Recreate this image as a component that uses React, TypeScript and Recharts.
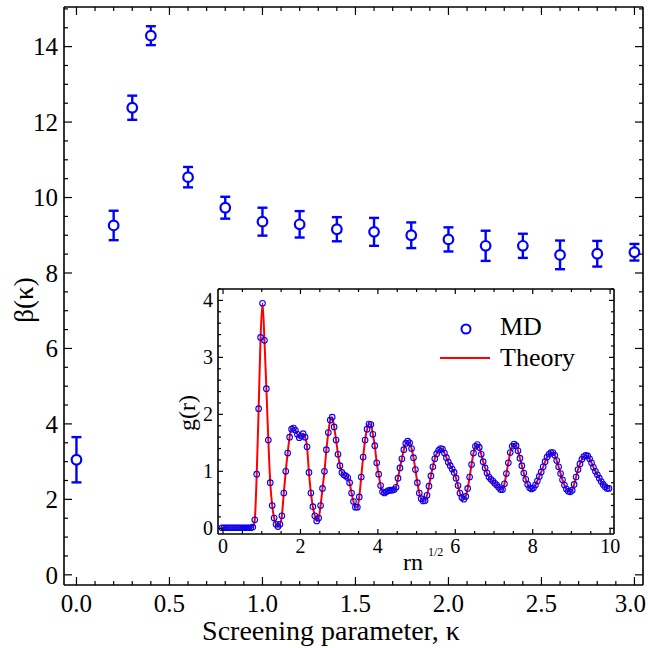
import { ComposedChart, Scatter, Line, XAxis, YAxis, ErrorBar } from 'recharts'

const FONT = '"Liberation Serif", "DejaVu Serif", serif'
const BLUE = '#0000ff'
const RED = '#ff0000'

// main panel: beta(kappa) with error bars
const kappa = [0, 0.2, 0.3, 0.4, 0.6, 0.8, 1.0, 1.2, 1.4, 1.6, 1.8, 2.0, 2.2, 2.4, 2.6, 2.8, 3.0]
const beta = [3.05, 9.26, 12.38, 14.29, 10.54, 9.73, 9.36, 9.29, 9.16, 9.09, 9.0, 8.89, 8.72, 8.72, 8.48, 8.51, 8.55]
const betaErr = [0.6, 0.39, 0.32, 0.25, 0.27, 0.29, 0.37, 0.35, 0.32, 0.37, 0.34, 0.32, 0.4, 0.32, 0.38, 0.34, 0.22]

const kappaMajor = [0, 0.5, 1, 1.5, 2, 2.5, 3]
const kappaTicks = Array.from({ length: 31 }, (_, i) => i / 10)
const betaMajor = [0, 2, 4, 6, 8, 10, 12, 14]
const betaTicks = Array.from({ length: 31 }, (_, i) => i / 2)

// inset: g(r), sampled every 0.05 starting at r = -0.03
const rStart = -0.03
const rStep = 0.05
const gValues = [
  0.01, 0.01, 0.01, 0.01, 0.01, 0.01, 0.01, 0.01, 0.01, 0.01, 0.01, 0.01, 0.01, 0.01, 0.01, 0.01,
  // 0.77 .. 1.72
  0.02, 0.15, 0.95, 2.1, 3.35, 3.95, 3.3, 2.45, 1.55, 0.8, 0.4, 0.18, 0.07, 0.03, 0.07, 0.22, 0.62, 1.0, 1.32, 1.6,
  // 1.77 .. 2.72
  1.74, 1.76, 1.72, 1.65, 1.59, 1.62, 1.66, 1.6, 1.43, 0.98, 0.62, 0.38, 0.22, 0.13, 0.18, 0.4, 0.7, 1.0, 1.38, 1.68,
  // 2.77 .. 3.72
  1.9, 1.95, 1.78, 1.55, 1.3, 1.1, 0.98, 0.94, 0.92, 0.89, 0.8, 0.62, 0.47, 0.37, 0.37, 0.55, 0.9, 1.25, 1.55, 1.74,
  // 3.77 .. 4.72
  1.83, 1.82, 1.65, 1.45, 1.15, 0.95, 0.75, 0.64, 0.62, 0.64, 0.66, 0.67, 0.67, 0.68, 0.72, 0.88, 1.06, 1.22, 1.38, 1.49,
  // 4.77 .. 5.72
  1.53, 1.5, 1.4, 1.24, 1.03, 0.8, 0.62, 0.52, 0.48, 0.49, 0.58, 0.74, 0.92, 1.08, 1.22, 1.31, 1.37, 1.4, 1.39, 1.32,
  // 5.77 .. 6.72
  1.24, 1.16, 1.1, 1.04, 0.98, 0.88, 0.75, 0.62, 0.54, 0.51, 0.56, 0.7, 0.9, 1.12, 1.32, 1.44, 1.47, 1.42, 1.3, 1.17,
  // 6.77 .. 7.72
  1.06, 0.97, 0.9, 0.86, 0.83, 0.79, 0.76, 0.72, 0.68, 0.68, 0.78, 0.96, 1.15, 1.33, 1.44, 1.48, 1.45, 1.36, 1.23, 1.1,
  // 7.77 .. 8.72
  0.97, 0.86, 0.77, 0.71, 0.69, 0.71, 0.76, 0.83, 0.91, 0.99, 1.08, 1.17, 1.25, 1.3, 1.33, 1.33, 1.28, 1.19, 1.08, 0.96,
  // 8.77 .. 9.72
  0.85, 0.76, 0.69, 0.65, 0.64, 0.67, 0.77, 0.9, 1.03, 1.13, 1.21, 1.26, 1.28, 1.27, 1.22, 1.15, 1.07, 1.0, 0.94, 0.88,
  // 9.77 .. 9.97
  0.82, 0.77, 0.73, 0.7, 0.7,
]

const rMajor = [0, 2, 4, 6, 8, 10]
const rTicks = Array.from({ length: 21 }, (_, i) => i / 2)
const gMajor = [0, 1, 2, 3, 4]
const gTicks = Array.from({ length: 22 }, (_, i) => Math.round(i * 2) / 10)

const mainData = kappa.map((k, i) => ({ k, b: beta[i], e: betaErr[i] }))
const insetData = gValues.map((g, i) => ({ r: +(rStart + i * rStep).toFixed(2), g }))

type Side = 'bottom' | 'top' | 'left' | 'right'

function makeTick(
  side: Side,
  majors: number[],
  o: { major: number; minor: number; font?: number; gap?: number; fmt?: (v: number) => string; maxX?: number }
) {
  return (props: any) => {
    const { x, y, payload } = props
    const v = Number(payload.value)
    const isMajor = majors.some((m) => Math.abs(m - v) < 1e-6)
    const len = isMajor ? o.major : o.minor
    let x2 = x
    let y2 = y
    if (side === 'bottom') y2 = y - len
    if (side === 'top') y2 = y + len
    if (side === 'left') x2 = x + len
    if (side === 'right') x2 = x - len
    let label = null
    if (o.fmt && isMajor) {
      if (side === 'bottom') {
        // keep the last label inside the page
        const s = o.fmt(v)
        const half = (s.length * 0.42 * (o.font ?? 16)) / 2
        const tx = o.maxX !== undefined && x + half > o.maxX ? o.maxX - half : x
        label = (
          <text x={tx} y={y + (o.gap ?? 0)} textAnchor="middle" fontSize={o.font} fontFamily={FONT} fill="#000">
            {s}
          </text>
        )
      } else {
        label = (
          <text x={x - (o.gap ?? 0)} y={y} dy="0.35em" textAnchor="end" fontSize={o.font} fontFamily={FONT} fill="#000">
            {o.fmt(v)}
          </text>
        )
      }
    }
    return (
      <g>
        <line x1={x} y1={y} x2={x2} y2={y2} stroke="#000" strokeWidth={1.2} />
        {label}
      </g>
    )
  }
}

const axisLine = { stroke: '#000', strokeWidth: 1.6 }

// shared props for the thin (1px) axes, ticks drawn by makeTick
const bare = {
  type: 'number' as const,
  allowDataOverflow: true,
  interval: 0 as const,
  tickSize: 0,
  tickMargin: 0,
  tickLine: false,
  axisLine,
}

function MainChart() {
  const xDomain = [-0.067, 3.046]
  const yDomain = [-0.27, 15.05]
  return (
    <ComposedChart width={648} height={648} data={mainData} margin={{ top: 6, right: 4, bottom: 62, left: 63 }}>
      <XAxis
        {...bare}
        xAxisId="x"
        dataKey="k"
        domain={xDomain}
        ticks={kappaTicks}
        height={1}
        tick={makeTick('bottom', kappaMajor, {
          major: 8,
          minor: 4,
          font: 25,
          gap: 27,
          fmt: (v) => v.toFixed(1),
          maxX: 646,
        })}
      />
      <XAxis
        {...bare}
        xAxisId="xt"
        dataKey="k"
        orientation="top"
        domain={xDomain}
        ticks={kappaTicks}
        height={1}
        tick={makeTick('top', kappaMajor, { major: 8, minor: 4 })}
      />
      <YAxis
        {...bare}
        yAxisId="y"
        dataKey="b"
        domain={yDomain}
        ticks={betaTicks}
        width={1}
        tick={makeTick('left', betaMajor, { major: 8, minor: 4, font: 25, gap: 6, fmt: (v) => String(v) })}
      />
      <YAxis
        {...bare}
        yAxisId="yr"
        dataKey="b"
        orientation="right"
        domain={yDomain}
        ticks={betaTicks}
        width={1}
        tick={makeTick('right', betaMajor, { major: 8, minor: 4 })}
      />
      <Scatter
        xAxisId="x"
        yAxisId="y"
        dataKey="b"
        isAnimationActive={false}
        shape={(p: any) => <circle cx={p.cx} cy={p.cy} r={4.8} fill="#fff" stroke={BLUE} strokeWidth={2.2} />}
      >
        <ErrorBar dataKey="e" direction="y" width={5} stroke={BLUE} strokeWidth={2.4} />
      </Scatter>
    </ComposedChart>
  )
}

function InsetChart() {
  const xDomain = [-0.13, 10.1]
  const yDomain = [-0.1, 4.2]
  return (
    <ComposedChart width={648} height={648} data={insetData} margin={{ top: 288, right: 33, bottom: 113, left: 217 }}>
      <XAxis
        {...bare}
        xAxisId="x"
        dataKey="r"
        domain={xDomain}
        ticks={rTicks}
        height={1}
        tick={makeTick('bottom', rMajor, { major: 5, minor: 3, font: 20, gap: 19, fmt: (v) => String(v) })}
      />
      <XAxis
        {...bare}
        xAxisId="xt"
        dataKey="r"
        orientation="top"
        domain={xDomain}
        ticks={rTicks}
        height={1}
        tick={makeTick('top', rMajor, { major: 5, minor: 3 })}
      />
      <YAxis
        {...bare}
        yAxisId="y"
        dataKey="g"
        domain={yDomain}
        ticks={gTicks}
        width={1}
        tick={makeTick('left', gMajor, { major: 5, minor: 3, font: 20, gap: 5, fmt: (v) => String(v) })}
      />
      <YAxis
        {...bare}
        yAxisId="yr"
        dataKey="g"
        orientation="right"
        domain={yDomain}
        ticks={gTicks}
        width={1}
        tick={makeTick('right', gMajor, { major: 5, minor: 3 })}
      />
      <Scatter
        xAxisId="x"
        yAxisId="y"
        dataKey="g"
        isAnimationActive={false}
        shape={(p: any) => <circle cx={p.cx} cy={p.cy} r={2.8} fill="none" stroke={BLUE} strokeWidth={1.1} />}
      />
      <Line
        xAxisId="x"
        yAxisId="y"
        dataKey="g"
        type="monotone"
        stroke={RED}
        strokeWidth={2}
        dot={false}
        isAnimationActive={false}
      />
    </ComposedChart>
  )
}

function Labels() {
  return (
    <svg width={648} height={648} style={{ position: 'absolute', left: 0, top: 0, pointerEvents: 'none' }} fontFamily={FONT}>
      <text x={331} y={640} textAnchor="middle" fontSize={28}>
        Screening parameter, κ
      </text>
      <text x={0} y={0} transform="translate(33 300) rotate(-90)" textAnchor="middle" fontSize={27}>
        β(κ)
      </text>
      <text x={0} y={0} transform="translate(195 413) rotate(-90)" textAnchor="middle" fontSize={24}>
        g(r)
      </text>
      <text x={403} y={570} fontSize={24}>
        rn
      </text>
      <text x={428} y={556} fontSize={12}>
        1/2
      </text>
      <circle cx={466} cy={329} r={4.5} fill="none" stroke={BLUE} strokeWidth={2} />
      <text x={500} y={335} fontSize={26}>
        MD
      </text>
      <line x1={440} y1={358} x2={490} y2={358} stroke={RED} strokeWidth={2} />
      <text x={500} y={366} fontSize={26}>
        Theory
      </text>
    </svg>
  )
}

export default function App() {
  return (
    <div style={{ position: 'absolute', left: 0, top: 0, width: 648, height: 648, background: '#fff' }}>
      <div style={{ position: 'absolute', left: 0, top: 0 }}>
        <MainChart />
      </div>
      <div style={{ position: 'absolute', left: 0, top: 0 }}>
        <InsetChart />
      </div>
      <Labels />
    </div>
  )
}
